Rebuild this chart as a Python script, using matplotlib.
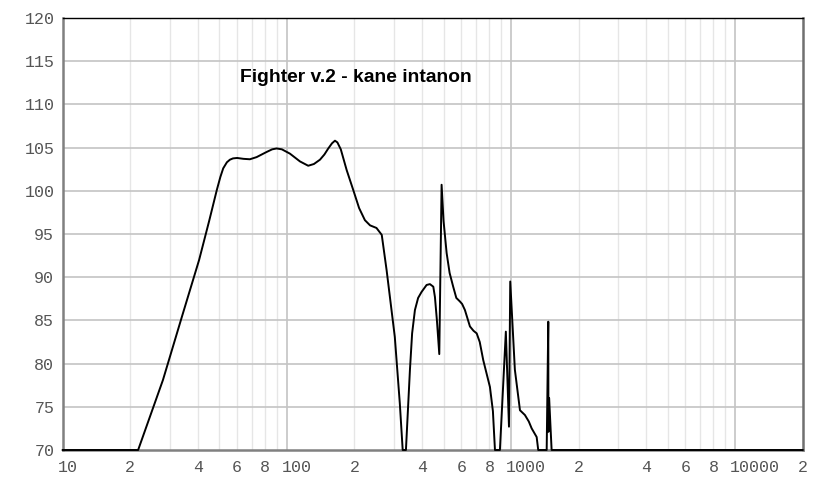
import matplotlib
matplotlib.use("Agg")
import matplotlib.pyplot as plt
from matplotlib.ticker import FixedLocator, NullFormatter
from matplotlib.transforms import ScaledTranslation

freq = [10, 21.7, 28, 34, 40.6, 45, 48.7, 50.5, 52, 54, 55.7, 57.5, 60, 64, 68.4,
        73.3, 81.3, 86, 90, 95, 103.2, 114.4, 124.5, 132, 140.5, 147, 153, 159,
        163.9, 168, 174, 184.8, 197.7, 210, 222.9, 235, 251, 265, 278.6, 303,
        319, 328.6, 339.7, 354, 362, 372.6, 385, 399, 420, 434.6, 450, 457.6,
        467, 478.5, 490, 500, 516, 532, 552, 570, 591, 605, 622.6, 655.6, 680,
        702.6, 725, 751.6, 805, 830, 847.7, 892, 948, 979, 991.8, 1040, 1096,
        1153, 1200, 1236, 1301, 1322, 1442, 1466, 1468, 1479, 1517, 20000]
spl = [70, 70, 78.1, 85.4, 92.0, 96.5, 100.1, 101.6, 102.6, 103.3, 103.6, 103.75,
       103.8, 103.7, 103.65, 103.9, 104.5, 104.8, 104.9, 104.8, 104.3, 103.4,
       102.9, 103.1, 103.6, 104.2, 104.9, 105.5, 105.8, 105.6, 104.8, 102.4,
       100.1, 98.0, 96.6, 96.0, 95.7, 94.9, 90.8, 83.1, 75.4, 70, 70, 79.3, 83.5,
       86.2, 87.6, 88.3, 89.1, 89.2, 88.9, 87.7, 85.0, 81.1, 100.7, 96.5, 92.8,
       90.5, 88.9, 87.6, 87.2, 86.9, 86.2, 84.3, 83.8, 83.5, 82.5, 80.4, 77.3,
       74.5, 70, 70, 83.7, 72.7, 89.5, 79.3, 74.6, 74.05, 73.3, 72.5, 71.5, 70,
       70, 84.85, 72.1, 76, 70, 70]

y_ticks = [70, 75, 80, 85, 90, 95, 100, 105, 110, 115, 120]
x_tick_vals = [10, 20, 40, 60, 80, 100, 200, 400, 600, 800, 1000, 2000, 4000,
               6000, 8000, 10000, 20000]
x_tick_labels = ["10", "2", "4", "6", "8", "100", "2", "4", "6", "8", "1000",
                 "2", "4", "6", "8", "10000", "2"]
title = "Fighter v.2 - kane intanon"

fig = plt.figure(figsize=(8.33, 4.92), dpi=100)
ax = fig.add_axes([62.7 / 833, 42 / 492, 740 / 833, 432 / 492])
ax.set_xscale("log")
ax.set_xlim(10, 20000)
ax.set_ylim(70, 120)

# grids
minor_all = []
for dec in [10, 100, 1000, 10000]:
    for m in range(2, 10):
        v = dec * m
        if v <= 20000:
            minor_all.append(v)
for v in minor_all:
    ax.axvline(v, color="#e6e6e6", lw=1.0, zorder=0)
for v in [100, 1000, 10000]:
    ax.axvline(v, color="#c4c4c4", lw=1.2, zorder=0)
for v in y_ticks[1:-1]:
    ax.axhline(v, color="#c4c4c4", lw=1.2, zorder=0)

ax.plot(freq, spl, color="black", lw=1.4, zorder=3, clip_on=False)

ax.xaxis.set_major_locator(FixedLocator(x_tick_vals))
ax.set_xticklabels(x_tick_labels)
ax.xaxis.set_minor_formatter(NullFormatter())
ax.xaxis.set_minor_locator(FixedLocator([]))
ax.set_yticks(y_ticks)
ax.set_yticklabels([str(v) for v in y_ticks])
ax.tick_params(axis="both", length=0, labelsize=12, labelcolor="#555555")
ax.tick_params(axis="x", pad=7)
ax.tick_params(axis="y", pad=6)
shift = ScaledTranslation(-4.9 / 100, 0, fig.dpi_scale_trans)
for lab in ax.get_xticklabels():
    lab.set_family(["Liberation Mono", "DejaVu Sans Mono"])
    lab.set_horizontalalignment("left")
    lab.set_transform(lab.get_transform() + shift)
for lab in ax.get_yticklabels():
    lab.set_family(["Liberation Mono", "DejaVu Sans Mono"])

ax.spines["top"].set_color("black")
ax.spines["top"].set_linewidth(1.0)
ax.spines["left"].set_color("#808080")
ax.spines["left"].set_linewidth(1.8)
ax.spines["bottom"].set_color("#808080")
ax.spines["bottom"].set_linewidth(1.8)
ax.spines["right"].set_color("#707070")
ax.spines["right"].set_linewidth(1.8)

ax.text(0.2395, 0.863, title, transform=ax.transAxes, fontsize=13.9,
        fontweight="bold", family=["Liberation Sans", "DejaVu Sans"],
        ha="left", va="center", color="black")

fig.savefig("out.png", dpi=100)
